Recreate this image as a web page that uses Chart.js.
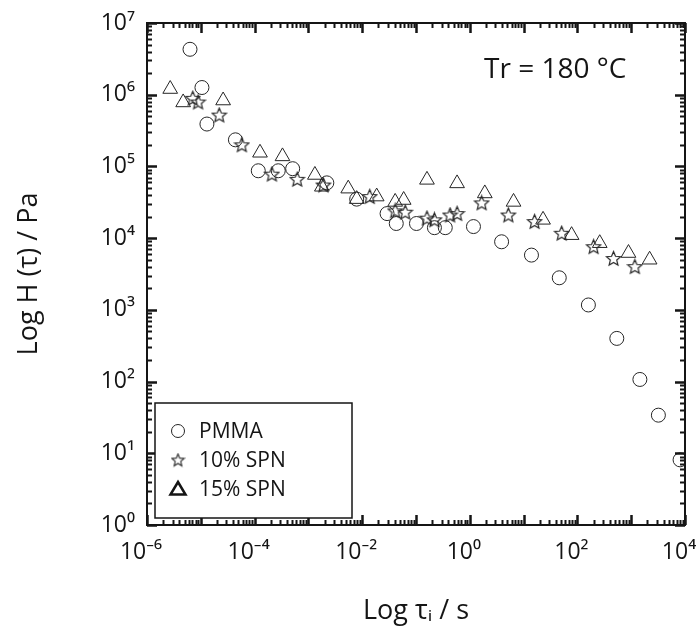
<!DOCTYPE html>
<html>
<head>
<meta charset="utf-8">
<script src="https://cdn.jsdelivr.net/npm/chart.js@4.4.1/dist/chart.umd.min.js"></script>
<style>
    html, body { margin: 0; padding: 0; background: #fff; }
</style>
</head>
<body>
<canvas id="chart" width="696" height="642"></canvas>
<script>
// relaxation time (s) and spectrum H (Pa)
const pmmaTau = [6.3e-6, 1.05e-5, 1.3e-5, 4.4e-5, 1.17e-4, 2.75e-4, 5.1e-4, 2.2e-3, 7.9e-3, 2.9e-2, 4.3e-2, 0.102, 0.22, 0.35, 1.17, 3.9, 14, 46, 160, 540, 1450, 3200, 8100];
const pmmaH   = [4.3e6, 1.26e6, 3.9e5, 2.35e5, 8.7e4, 8.7e4, 9.3e4, 5.9e4, 3.5e4, 2.2e4, 1.6e4, 1.6e4, 1.4e4, 1.4e4, 1.45e4, 8.9e3, 5.8e3, 2.8e3, 1.17e3, 400, 107, 34, 8.1];

const spn10Tau = [7.1e-6, 8.9e-6, 2.2e-5, 5.8e-5, 2.1e-4, 6.2e-4, 1.9e-3, 1.38e-2, 4.1e-2, 6.3e-2, 0.16, 0.22, 0.43, 0.58, 1.66, 5.2, 16, 51, 200, 470, 1170];
const spn10H   = [8.9e5, 7.9e5, 5.2e5, 2.0e5, 7.8e4, 6.6e4, 5.5e4, 3.8e4, 2.4e4, 2.3e4, 1.9e4, 1.8e4, 2.1e4, 2.2e4, 3.1e4, 2.1e4, 1.7e4, 1.17e4, 7.6e3, 5.2e3, 4.0e3];

const spn15Tau = [2.7e-6, 4.7e-6, 2.6e-5, 1.26e-4, 3.3e-4, 1.32e-3, 1.78e-3, 5.5e-3, 7.9e-3, 1.86e-2, 4.1e-2, 5.9e-2, 0.16, 0.58, 1.9, 6.5, 23, 78, 260, 890, 2200];
const spn15H   = [1.2e6, 7.8e5, 8.3e5, 1.55e5, 1.38e5, 7.6e4, 5.2e4, 4.9e4, 3.5e4, 3.8e4, 3.2e4, 3.4e4, 6.5e4, 5.8e4, 4.2e4, 3.2e4, 1.8e4, 1.1e4, 8.5e3, 6.2e3, 5.0e3];

const seriesLabels = ["PMMA", "10% SPN", "15% SPN"];
const xTickValues = [1e-6, 1e-4, 1e-2, 1e0, 1e2, 1e4];
const yTickValues = [1e0, 1e1, 1e2, 1e3, 1e4, 1e5, 1e6, 1e7];
const noteText = "Tr = 180 °C";

const FONT = "'Open Sans', 'Noto Sans', sans-serif";
const INK = "#151515";
const MARK = "#262626";

const SUP = { "-": "\u207B", "0": "\u2070", "1": "\u00B9", "2": "\u00B2", "3": "\u00B3",
              "4": "\u2074", "5": "\u2075", "6": "\u2076", "7": "\u2077", "8": "\u2078", "9": "\u2079" };

function powerLabel(v) {
    const e = Math.round(Math.log10(v));
    return "10" + String(e).split("").map(c => SUP[c]).join("");
}

function makeStar(size, color, width) {
    const c = document.createElement("canvas");
    c.width = size;
    c.height = size;
    const g = c.getContext("2d");
    const cx = size / 2, cy = size / 2 + 0.5;
    const R = size / 2 - 1, r = R * 0.45;
    g.beginPath();
    for (let k = 0; k < 10; k++) {
        const a = -Math.PI / 2 + k * Math.PI / 5;
        const rr = k % 2 ? r : R;
        g.lineTo(cx + rr * Math.cos(a), cy + rr * Math.sin(a));
    }
    g.closePath();
    g.strokeStyle = color;
    g.lineWidth = width;
    g.stroke();
    return c;
}

const starImg = makeStar(17, MARK, 1.2);
const starLegend = makeStar(15, MARK, 1.1);

function pairs(xs, ys) {
    return xs.map((x, i) => ({ x: x, y: ys[i] }));
}

// no extra room for the end labels, the frame goes edge to edge
function noEndPadding(s) {
    s.paddingLeft = 0;
    s.paddingRight = 0;
    s.paddingTop = 0;
    s.paddingBottom = 0;
}

// frame with inward log ticks on all four sides
const frameTicks = {
    id: "frameTicks",
    afterDatasetsDraw(chart) {
        const { ctx, chartArea: a, scales: { x, y } } = chart;
        ctx.save();
        ctx.strokeStyle = INK;
        ctx.lineWidth = 2;
        ctx.strokeRect(a.left, a.top, a.right - a.left, a.bottom - a.top);

        for (let e = -6; e <= 4; e++) {
            for (let m = 1; m <= 9; m++) {
                const v = m * Math.pow(10, e);
                if (v > 1.0001e4) break;
                const px = Math.round(x.getPixelForValue(v)) + 0.5;
                const len = m === 1 ? 10 : 5;
                ctx.lineWidth = m === 1 ? 2.5 : 2;
                ctx.beginPath();
                ctx.moveTo(px, a.bottom);
                ctx.lineTo(px, a.bottom - len);
                ctx.moveTo(px, a.top);
                ctx.lineTo(px, a.top + len);
                ctx.stroke();
            }
        }
        for (let e = 0; e <= 7; e++) {
            for (let m = 1; m <= 9; m++) {
                const v = m * Math.pow(10, e);
                if (v > 1.0001e7) break;
                const py = Math.round(y.getPixelForValue(v)) + 0.5;
                const len = m === 1 ? 10 : 5;
                ctx.lineWidth = m === 1 ? 2.5 : 2;
                ctx.beginPath();
                ctx.moveTo(a.left, py);
                ctx.lineTo(a.left + len, py);
                ctx.moveTo(a.right, py);
                ctx.lineTo(a.right - len, py);
                ctx.stroke();
            }
        }
        ctx.restore();
    },
};

// boxed legend in the lower left and the temperature note
const boxLegend = {
    id: "boxLegend",
    afterDraw(chart) {
        const { ctx } = chart;
        ctx.save();
        ctx.fillStyle = "#fff";
        ctx.fillRect(155, 403, 197, 115);
        ctx.strokeStyle = INK;
        ctx.lineWidth = 1.5;
        ctx.strokeRect(155, 403, 197, 115);

        const rows = [431, 460, 489];
        const sx = 178;

        ctx.strokeStyle = MARK;
        ctx.lineWidth = 1;
        ctx.beginPath();
        ctx.arc(sx, rows[0], 6.5, 0, Math.PI * 2);
        ctx.stroke();

        ctx.drawImage(starLegend, sx - 7.5, rows[1] - 7.5);

        ctx.strokeStyle = INK;
        ctx.lineWidth = 2.5;
        ctx.lineJoin = "miter";
        ctx.beginPath();
        ctx.moveTo(sx, rows[2] - 7);
        ctx.lineTo(sx + 7.5, rows[2] + 5.5);
        ctx.lineTo(sx - 7.5, rows[2] + 5.5);
        ctx.closePath();
        ctx.stroke();

        ctx.fillStyle = INK;
        ctx.font = "21px " + FONT;
        ctx.textAlign = "left";
        ctx.textBaseline = "middle";
        seriesLabels.forEach((t, i) => ctx.fillText(t, 199, rows[i] + 1));

        ctx.font = "28px " + FONT;
        ctx.textAlign = "left";
        ctx.fillText(noteText, 484, 70);
        ctx.restore();
    },
};

const ctx = document.getElementById("chart").getContext("2d");

new Chart(ctx, {
    type: "scatter",
    data: {
        datasets: [
            {
                label: seriesLabels[0],
                data: pairs(pmmaTau, pmmaH),
                pointStyle: "circle",
                pointRadius: 7,
                borderColor: MARK,
                borderWidth: 1,
                backgroundColor: "transparent",
            },
            {
                label: seriesLabels[1],
                data: pairs(spn10Tau, spn10H),
                pointStyle: starImg,
                pointRadius: 8,
            },
            {
                label: seriesLabels[2],
                data: pairs(spn15Tau, spn15H),
                pointStyle: "triangle",
                pointRadius: 8.5,
                borderColor: MARK,
                borderWidth: 1,
                backgroundColor: "transparent",
            },
        ],
    },
    options: {
        responsive: false,
        animation: false,
        events: [],
        layout: { padding: { top: 23, right: 11, left: 0, bottom: 0 } },
        plugins: {
            legend: { display: false },
            tooltip: { enabled: false },
        },
        scales: {
            x: {
                type: "logarithmic",
                position: "bottom",
                min: 1e-6,
                max: 1e4,
                grid: { display: false, drawTicks: false },
                border: { display: false },
                afterBuildTicks: (s) => { s.ticks = xTickValues.map(v => ({ value: v })); },
                afterFit: (s) => { s.height = 117; noEndPadding(s); },
                ticks: {
                    autoSkip: false,
                    maxRotation: 0,
                    padding: 14,
                    labelOffset: -6,
                    color: INK,
                    font: { family: FONT, size: 23 },
                    callback: (v) => powerLabel(v),
                },
                title: {
                    display: true,
                    text: "Log \u03C4\u1D62 / s",
                    color: INK,
                    font: { family: FONT, size: 27 },
                    padding: { top: 0, bottom: 14 },
                },
            },
            y: {
                type: "logarithmic",
                position: "left",
                min: 1,
                max: 1e7,
                grid: { display: false, drawTicks: false },
                border: { display: false },
                afterBuildTicks: (s) => { s.ticks = yTickValues.map(v => ({ value: v })); },
                afterFit: (s) => { s.width = 147; noEndPadding(s); },
                ticks: {
                    autoSkip: false,
                    padding: 12,
                    color: INK,
                    font: { family: FONT, size: 23 },
                    callback: (v) => powerLabel(v),
                },
                title: {
                    display: true,
                    text: "Log H (\u03C4) / Pa",
                    color: INK,
                    font: { family: FONT, size: 27 },
                    padding: { top: 13, bottom: 0 },
                },
            },
        },
    },
    plugins: [frameTicks, boxLegend],
});
</script>
</body>
</html>
